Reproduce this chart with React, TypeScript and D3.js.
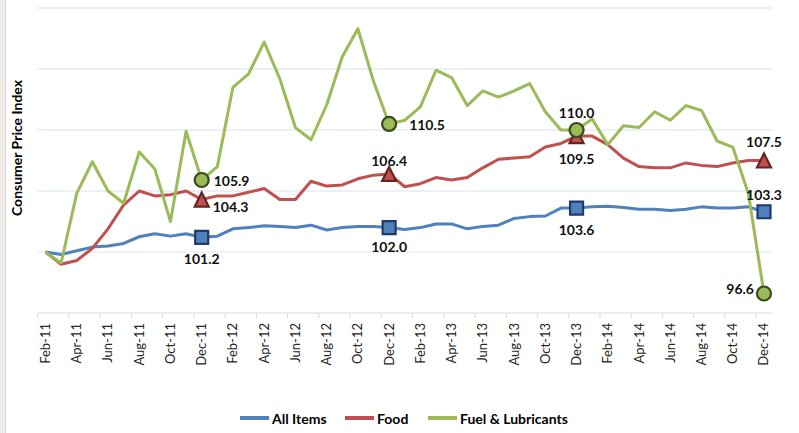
import * as d3 from 'd3';

const months = [
  'Feb-11', 'Mar-11', 'Apr-11', 'May-11', 'Jun-11', 'Jul-11', 'Aug-11', 'Sep-11', 'Oct-11', 'Nov-11', 'Dec-11',
  'Jan-12', 'Feb-12', 'Mar-12', 'Apr-12', 'May-12', 'Jun-12', 'Jul-12', 'Aug-12', 'Sep-12', 'Oct-12', 'Nov-12', 'Dec-12',
  'Jan-13', 'Feb-13', 'Mar-13', 'Apr-13', 'May-13', 'Jun-13', 'Jul-13', 'Aug-13', 'Sep-13', 'Oct-13', 'Nov-13', 'Dec-13',
  'Jan-14', 'Feb-14', 'Mar-14', 'Apr-14', 'May-14', 'Jun-14', 'Jul-14', 'Aug-14', 'Sep-14', 'Oct-14', 'Nov-14', 'Dec-14',
];

const allItems = [
  100, 99.8, 100.1, 100.4, 100.5, 100.7, 101.25, 101.5, 101.3, 101.5, 101.2,
  101.3, 101.9, 102.0, 102.15, 102.1, 102.0, 102.2, 101.8, 102.0, 102.1, 102.1, 102.0,
  101.85, 102.0, 102.3, 102.3, 101.9, 102.1, 102.2, 102.75, 102.9, 102.95, 103.6, 103.6,
  103.7, 103.75, 103.65, 103.5, 103.5, 103.4, 103.5, 103.7, 103.6, 103.6, 103.7, 103.3,
];

const food = [
  100, 99.0, 99.3, 100.3, 101.9, 103.85, 105.0, 104.6, 104.7, 105.0, 104.3,
  104.6, 104.6, 104.9, 105.2, 104.3, 104.3, 105.8, 105.4, 105.5, 106.0, 106.3, 106.4,
  105.35, 105.6, 106.1, 105.9, 106.1, 106.9, 107.6, 107.7, 107.8, 108.6, 108.9, 109.5,
  109.5, 108.8, 107.7, 107.0, 106.9, 106.9, 107.3, 107.1, 107.0, 107.3, 107.5, 107.5,
];

const fuel = [
  100, 99.1, 104.8, 107.4, 105.0, 104.0, 108.2, 106.8, 102.5, 109.9, 105.9,
  107.0, 113.5, 114.6, 117.2, 114.2, 110.2, 109.2, 112.05, 116.0, 118.3, 114.0, 110.5,
  110.8, 111.9, 114.9, 114.3, 112.0, 113.2, 112.7, 113.2, 113.8, 111.5, 110.0, 110.0,
  110.9, 108.8, 110.35, 110.2, 111.5, 110.8, 112.0, 111.6, 109.1, 108.6, 104.8, 96.6,
];

const yTicks = [95, 100, 105, 110, 115, 120];
const markedIdx = [10, 22, 34, 46];

const W = 799;
const H = 433;
const FONT = 'Lato, "Open Sans", sans-serif';

type Lbl = [number, number, string];

const series = [
  {
    name: 'All Items', values: allItems, color: '#4f81bd', edge: '#1f3b6e', shape: 'square',
    labels: [[0, 21, 'middle'], [0, 19, 'middle'], [0, 21, 'middle'], [0, -17, 'middle']] as Lbl[],
  },
  {
    name: 'Food', values: food, color: '#c0504d', edge: '#632523', shape: 'triangle',
    labels: [[11, 7, 'start'], [0, -13, 'middle'], [0, 22, 'middle'], [0, -19, 'middle']] as Lbl[],
  },
  {
    name: 'Fuel & Lubricants', values: fuel, color: '#9bbb59', edge: '#3b4a1f', shape: 'circle',
    labels: [[12, 0, 'start'], [20, 1, 'start'], [0, -18, 'middle'], [-10, -5, 'end']] as Lbl[],
  },
];

const legendX = [240, 345, 428];

const markerPath = (shape: string) => {
  if (shape === 'square') return 'M-6.5,-6.5H6.5V6.5H-6.5Z';
  if (shape === 'triangle') return 'M0,-7L7,7L-7,7Z';
  return d3.symbol(d3.symbolCircle, Math.PI * 49)()!;
};

export default function App() {
  const x = d3.scaleBand<string>().domain(months).range([37.7, 771.8]).padding(0);
  const y = d3.scaleLinear().domain([95, 120]).range([313, 8]);
  const cx = (i: number) => x(months[i])! + x.bandwidth() / 2;
  const line = d3
    .line<number>()
    .x((_, i) => cx(i))
    .y((d) => y(d));
  const fmt = d3.format('.1f');

  return (
    <svg
      width={W}
      height={H}
      style={{ position: 'absolute', left: 0, top: 0, background: '#fff' }}
      fontFamily={FONT}
    >
      <rect x={0} y={0} width={5} height={H} fill="#efebe8" />
      <line x1={5.5} x2={5.5} y1={0} y2={H} stroke="#dcd8d5" />

      {yTicks.slice(1).map((t) => (
        <line key={t} x1={37.7} x2={771.8} y1={y(t)} y2={y(t)} stroke={t === 100 ? '#e3e7ee' : '#d7e1f1'} strokeWidth={1.2} />
      ))}
      <line x1={37.7} x2={771.8} y1={y(95)} y2={y(95)} stroke="#d9d9d9" strokeWidth={1.2} />

      {months.map((m, i) =>
        i % 2 === 0 ? (
          <g key={m}>
            <line x1={x(m)!} x2={x(m)!} y1={y(95)} y2={y(95) + 5} stroke="#d9d9d9" />
            <text
              transform={`translate(${cx(i) + 4.5},${y(95) + 10}) rotate(-90)`}
              textAnchor="end"
              fontSize={13}
              fill="#262626"
            >
              {m}
            </text>
          </g>
        ) : null
      )}

      <text
        transform="translate(22,148) rotate(-90)"
        textAnchor="middle"
        fontSize={14}
        fontWeight="bold"
        fill="#000"
      >
        Consumer Price Index
      </text>

      {series.map((s) => (
        <path key={s.name} d={line(s.values)!} fill="none" stroke={s.color} strokeWidth={3} strokeLinejoin="round" />
      ))}

      {series.map((s) => (
        <g key={s.name + '-m'}>
          {markedIdx.map((i, k) => {
            const [dx, dy, anchor] = s.labels[k];
            return (
              <g key={i}>
                <path
                  d={markerPath(s.shape)}
                  transform={`translate(${cx(i)},${y(s.values[i])})`}
                  fill={s.color}
                  stroke={s.edge}
                  strokeWidth={2.2}
                />
                <text
                  x={cx(i) + dx}
                  y={y(s.values[i]) + dy}
                  textAnchor={anchor as any}
                  dominantBaseline="central"
                  fontSize={14}
                  fontWeight="bold"
                  fill="#111"
                >
                  {fmt(s.values[i])}
                </text>
              </g>
            );
          })}
        </g>
      ))}

      {series.map((s, k) => (
        <g key={s.name + '-l'} transform={`translate(${legendX[k]},418)`}>
          <line x1={0} x2={29} y1={0} y2={0} stroke={s.color} strokeWidth={4} />
          <text x={32} y={0} dominantBaseline="central" fontSize={14} fontWeight="bold" fill="#000">
            {s.name}
          </text>
        </g>
      ))}
    </svg>
  );
}
